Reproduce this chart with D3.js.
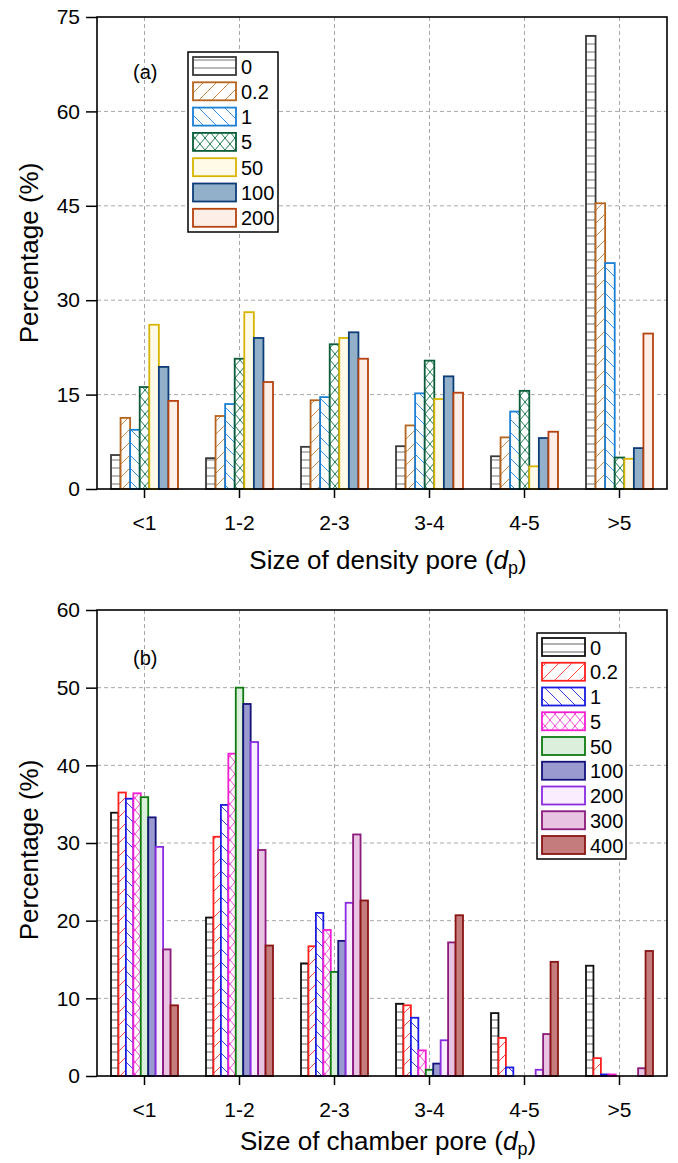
<!DOCTYPE html>
<html><head><meta charset="utf-8">
<script src="https://cdn.jsdelivr.net/npm/d3@7"></script>
<style>
html,body{margin:0;padding:0;background:#fff;}
svg text{font-family:"Liberation Sans",Arial,sans-serif;fill:#000;}
</style></head>
<body><svg id="chart" width="678" height="1163"></svg>
<script>
// ---------- DATA ----------
const categories = ["<1", "1-2", "2-3", "3-4", "4-5", ">5"];

// Panel (a): density pore
const densitySeries = ["0", "0.2", "1", "5", "50", "100", "200"];
const density_0   = [5.4, 4.9, 6.7, 6.8, 5.2, 72.0];
const density_02  = [11.3, 11.6, 14.1, 10.1, 8.2, 45.4];
const density_1   = [9.4, 13.5, 14.6, 15.2, 12.3, 35.9];
const density_5   = [16.2, 20.7, 23.0, 20.4, 15.6, 5.0];
const density_50  = [26.1, 28.1, 24.0, 14.3, 3.6, 4.8];
const density_100 = [19.4, 24.0, 24.9, 17.9, 8.1, 6.5];
const density_200 = [14.0, 17.0, 20.7, 15.3, 9.1, 24.7];
const densityTicks = [0, 15, 30, 45, 60, 75];

// Panel (b): chamber pore
const chamberSeries = ["0", "0.2", "1", "5", "50", "100", "200", "300", "400"];
const chamber_0   = [33.9, 20.4, 14.5, 9.3, 8.1, 14.2];
const chamber_02  = [36.5, 30.8, 16.7, 9.1, 4.9, 2.3];
const chamber_1   = [35.7, 34.9, 21.0, 7.5, 1.1, 0.2];
const chamber_5   = [36.4, 41.5, 18.8, 3.3, 0, 0.2];
const chamber_50  = [35.9, 50.0, 13.4, 0.8, 0, 0];
const chamber_100 = [33.3, 47.9, 17.4, 1.6, 0, 0];
const chamber_200 = [29.5, 43.0, 22.3, 4.6, 0.8, 0];
const chamber_300 = [16.3, 29.1, 31.1, 17.2, 5.4, 1.0];
const chamber_400 = [9.1, 16.8, 22.6, 20.7, 14.7, 16.1];
const chamberTicks = [0, 10, 20, 30, 40, 50, 60];

const densityValues = [density_0, density_02, density_1, density_5, density_50, density_100, density_200];
const chamberValues = [chamber_0, chamber_02, chamber_1, chamber_5, chamber_50, chamber_100, chamber_200, chamber_300, chamber_400];

// ---------- STYLES ----------
// type: h = horizontal lines, f = forward diag, b = back diag, x = crosshatch, s = solid
const densityStyles = [
  {stroke:"#3a3a3a", type:"h", line:"#8a8a8a", bg:"#ffffff"},
  {stroke:"#b5651d", type:"f", line:"#c98a4b", bg:"#ffffff"},
  {stroke:"#1a80d6", type:"b", line:"#3990e0", bg:"#ffffff"},
  {stroke:"#0b5c38", type:"x", line:"#1d7a50", bg:"#ffffff"},
  {stroke:"#d8b400", type:"s", bg:"#fffbe8"},
  {stroke:"#0d3d78", type:"s", bg:"#93b0ca"},
  {stroke:"#b5420f", type:"s", bg:"#fdefe8"}
];
const chamberStyles = [
  {stroke:"#111111", type:"h", line:"#7a7a7a", bg:"#ffffff"},
  {stroke:"#ff1f1f", type:"f", line:"#ff4a4a", bg:"#ffffff"},
  {stroke:"#1a1ae0", type:"b", line:"#3a3ae8", bg:"#ffffff"},
  {stroke:"#f21fd2", type:"x", line:"#f24ad8", bg:"#ffffff"},
  {stroke:"#0f7a10", type:"s", bg:"#dcefdc"},
  {stroke:"#12127a", type:"s", bg:"#9a9ad0"},
  {stroke:"#8a2be2", type:"s", bg:"#faeefe"},
  {stroke:"#8c1a7c", type:"s", bg:"#e8c3e2"},
  {stroke:"#8a1414", type:"s", bg:"#c47c7c"}
];

const svg = d3.select("#chart");
const defs = svg.append("defs");

function makePattern(id, st) {
  if (st.type === "s") return st.bg;
  const p = defs.append("pattern").attr("id", id).attr("patternUnits", "userSpaceOnUse");
  if (st.type === "h") {
    p.attr("width", 8).attr("height", 8);
    p.append("rect").attr("width", 8).attr("height", 8).attr("fill", st.bg);
    p.append("line").attr("x1", 0).attr("x2", 8).attr("y1", 4).attr("y2", 4)
      .attr("stroke", st.line).attr("stroke-width", 1.2);
  } else if (st.type === "f" || st.type === "b") {
    const s = 13;
    p.attr("width", s).attr("height", s);
    p.append("rect").attr("width", s).attr("height", s).attr("fill", st.bg);
    const d = st.type === "f" ? [0, s, s, 0] : [0, 0, s, s];
    p.append("line").attr("x1", d[0]).attr("y1", d[1]).attr("x2", d[2]).attr("y2", d[3])
      .attr("stroke", st.line).attr("stroke-width", 1);
  } else if (st.type === "x") {
    const w = 10, h = 12;
    p.attr("width", w).attr("height", h);
    p.append("rect").attr("width", w).attr("height", h).attr("fill", st.bg);
    p.append("line").attr("x1", 0).attr("y1", 0).attr("x2", w).attr("y2", h).attr("stroke", st.line).attr("stroke-width", 1);
    p.append("line").attr("x1", 0).attr("y1", h).attr("x2", w).attr("y2", 0).attr("stroke", st.line).attr("stroke-width", 1);
  }
  return `url(#${id})`;
}

function drawPanel(cfg) {
  const {left, right, top, bottom, yMax, ticks, series, values, styles, label, xTitle, legend, idp} = cfg;
  const g = svg.append("g");
  const x = d3.scaleBand().domain(categories).range([left, right]).padding(0);
  const y = d3.scaleLinear().domain([0, yMax]).range([bottom, top]);
  const groupW = 67;
  const xi = d3.scaleBand().domain(series).range([-groupW/2, groupW/2]).padding(0);
  const fills = styles.map((st, i) => makePattern(idp + i, st));

  // grid
  const grid = g.append("g").attr("stroke", "#a8a8a8").attr("stroke-width", 1).attr("stroke-dasharray", "4,3");
  ticks.filter(t => t > 0 && t < yMax).forEach(t => {
    grid.append("line").attr("x1", left).attr("x2", right).attr("y1", y(t)).attr("y2", y(t));
  });
  categories.forEach(c => {
    const cx = x(c) + x.bandwidth()/2;
    grid.append("line").attr("x1", cx).attr("x2", cx).attr("y1", top).attr("y2", bottom);
  });

  // bars
  series.forEach((s, si) => {
    const data = values[si].map((v, ci) => ({c: categories[ci], v})).filter(d => d.v > 0);
    g.append("g").selectAll("rect").data(data).join("rect")
      .attr("x", d => x(d.c) + x.bandwidth()/2 + xi(s))
      .attr("width", xi.bandwidth())
      .attr("y", d => y(d.v))
      .attr("height", d => y(0) - y(d.v))
      .attr("fill", fills[si])
      .attr("stroke", styles[si].stroke)
      .attr("stroke-width", 1.8);
  });

  // axes
  const yAxis = d3.axisLeft(y).tickValues(ticks).tickSize(11).tickPadding(6);
  const ya = g.append("g").attr("transform", `translate(${left},0)`).call(yAxis);
  const xAxis = d3.axisBottom(x).tickSize(9).tickPadding(17);
  const xa = g.append("g").attr("transform", `translate(0,${bottom})`).call(xAxis);
  [ya, xa].forEach(a => {
    a.select(".domain").remove();
    a.selectAll(".tick line").attr("stroke", "#000").attr("stroke-width", 1.5);
    a.selectAll(".tick text").attr("font-size", 21).attr("font-family", "Liberation Sans, Arial, sans-serif").attr("fill", "#000");
  });
  // frame
  g.append("rect").attr("x", left).attr("y", top).attr("width", right - left).attr("height", bottom - top)
    .attr("fill", "none").attr("stroke", "#000").attr("stroke-width", 1.6);

  // y title
  g.append("text").attr("transform", `translate(${cfg.yTitleX},${cfg.yTitleY}) rotate(-90)`)
    .attr("text-anchor", "middle").attr("font-size", 26).text("Percentage (%)");
  // x title
  const xt = g.append("text").attr("x", (left + right)/2 + 6).attr("y", cfg.xTitleY)
    .attr("text-anchor", "middle").attr("font-size", 26);
  xt.append("tspan").text(xTitle + " (");
  xt.append("tspan").attr("font-style", "italic").text("d");
  xt.append("tspan").attr("font-size", 18).attr("dy", 5).text("p");
  xt.append("tspan").attr("dy", -5).text(")");

  // panel label
  g.append("text").attr("x", cfg.labelX).attr("y", cfg.labelY).attr("font-size", 20).text(label);

  // legend
  const L = legend;
  g.append("rect").attr("x", L.x).attr("y", L.y).attr("width", L.w).attr("height", L.h)
    .attr("fill", "#fff").attr("stroke", "#000").attr("stroke-width", 1.5);
  series.forEach((s, si) => {
    const cy = L.firstY + si * L.step;
    g.append("rect").attr("x", L.x + 5).attr("y", cy - 9).attr("width", 43).attr("height", 18)
      .attr("fill", fills[si]).attr("stroke", styles[si].stroke).attr("stroke-width", 1.8);
    g.append("text").attr("x", L.x + 53).attr("y", cy + 7.5).attr("font-size", 20).text(s);
  });
}

drawPanel({
  left: 97, right: 667, top: 17, bottom: 489, yMax: 75, ticks: densityTicks,
  series: densitySeries, values: densityValues, styles: densityStyles, idp: "pa",
  label: "(a)", labelX: 133, labelY: 79, xTitle: "Size of density pore", xTitleY: 569,
  yTitleX: 38, yTitleY: 253,
  legend: {x: 188, y: 52, w: 90, h: 180, firstY: 66, step: 25.3}
});

drawPanel({
  left: 97, right: 667, top: 610, bottom: 1076, yMax: 60, ticks: chamberTicks,
  series: chamberSeries, values: chamberValues, styles: chamberStyles, idp: "pb",
  label: "(b)", labelX: 133, labelY: 665, xTitle: "Size of chamber pore", xTitleY: 1150,
  yTitleX: 38, yTitleY: 850,
  legend: {x: 537, y: 633, w: 89, h: 226, firstY: 647, step: 24.75}
});
</script>
</body></html>
